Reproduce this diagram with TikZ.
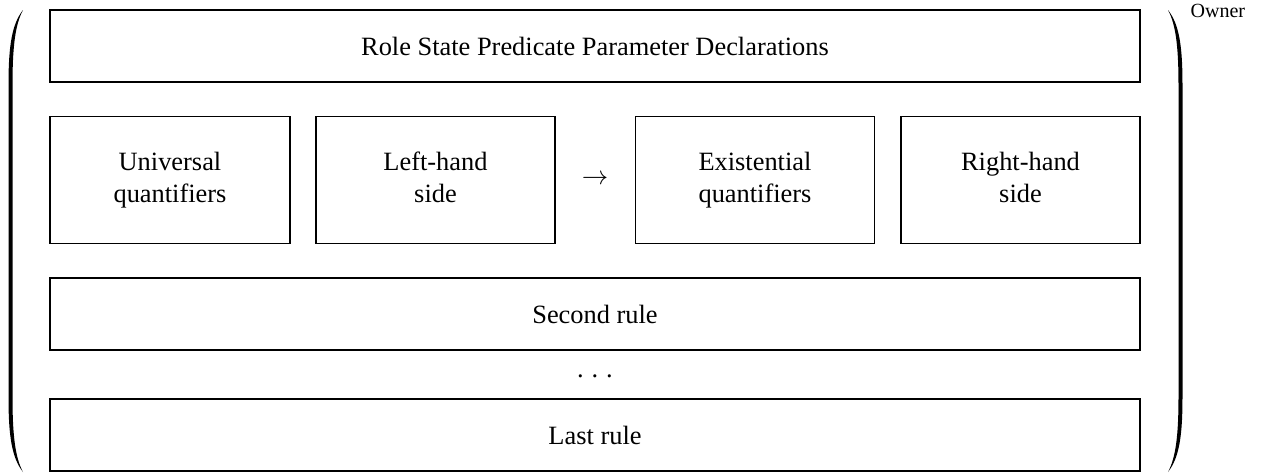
\documentclass[tikz,border=0pt]{standalone}
\usepackage{fontspec}
\setmainfont{Liberation Serif}
\begin{document}
\begin{tikzpicture}[x=0.3788pt, y=-0.3788pt,
  blk/.style={draw, line width=0.4pt, inner sep=0pt, align=center, font=\fontsize{10}{12}\selectfont},
  paren/.style={fill=black, draw=none}]
\useasboundingbox (0,0) rectangle (1263,472);
% boxes
\node[blk, minimum width={1090*0.3788pt}, minimum height={72*0.3788pt}] (decl) at (595,46) {Role State Predicate Parameter Declarations};
\node[blk, minimum width={240*0.3788pt}, minimum height={127*0.3788pt}] (univ) at (170,180) {Universal\strut\\quantifiers\strut};
\node[blk, minimum width={239*0.3788pt}, minimum height={127*0.3788pt}] (lhs) at (435.5,180) {Left-hand\strut\\side\strut};
\node[inner sep=0pt, font=\fontsize{10}{12}\selectfont] (arr) at (595,180) {$\rightarrow$};
\node[blk, minimum width={239*0.3788pt}, minimum height={127*0.3788pt}] (exq) at (755,180) {Existential\strut\\quantifiers\strut};
\node[blk, minimum width={239*0.3788pt}, minimum height={127*0.3788pt}] (rhs) at (1020.5,180) {Right-hand\strut\\side\strut};
\node[blk, minimum width={1090*0.3788pt}, minimum height={72*0.3788pt}] (second) at (595,314) {Second rule};
\node[inner sep=0pt, font=\fontsize{10}{12}\selectfont] (dots) at (595,376) {.\hspace{0.3em}.\hspace{0.3em}.};
\node[blk, minimum width={1090*0.3788pt}, minimum height={72*0.3788pt}] (last) at (595,435) {Last rule};
% parentheses
\fill[paren] (23,10) .. controls (12,24) and (8.5,45) .. (8.5,85) -- (8.5,397)
  .. controls (8.5,437) and (12,458) .. (23,472)
  .. controls (15.5,458) and (12.5,437) .. (12.5,397) -- (12.5,85)
  .. controls (12.5,45) and (15.5,24) .. (23,10) -- cycle;
\fill[paren] (1168,10) .. controls (1179,24) and (1182.5,45) .. (1182.5,85) -- (1182.5,397)
  .. controls (1182.5,437) and (1179,458) .. (1168,472)
  .. controls (1175.5,458) and (1178.5,437) .. (1178.5,397) -- (1178.5,85)
  .. controls (1178.5,45) and (1175.5,24) .. (1168,10) -- cycle;
\node[anchor=base west, inner sep=0pt, font=\fontsize{7.6}{9}\selectfont] (owner) at (1190,17) {Owner};
\end{tikzpicture}
\end{document}
